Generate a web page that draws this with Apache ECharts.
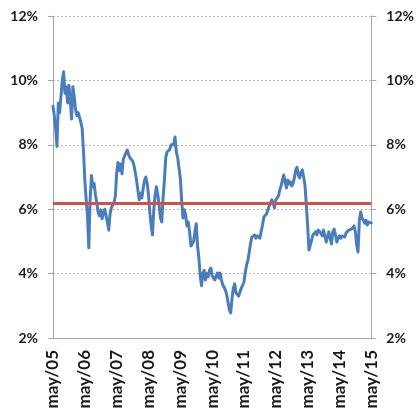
<!DOCTYPE html>
<html>
<head>
<meta charset="utf-8">
<script src="https://cdn.jsdelivr.net/npm/echarts@6/dist/echarts.min.js"></script>
<style>
html,body{margin:0;padding:0;background:#fff;}
#chart{width:417px;height:413px;}
</style>
</head>
<body>
<div id="chart"></div>
<script>
const tickLabels = ['may/05','may/06','may/07','may/08','may/09','may/10','may/11','may/12','may/13','may/14','may/15'];
const yTicks = [2, 4, 6, 8, 10, 12];
const stepMonths = 0.5;
const average = 6.18;
const rate = [
 9.2, 8.9, 8.5, 7.95, 9.3, 9.0, 9.5, 10.0, 10.27, 9.6,
 9.8, 9.3, 9.85, 9.4, 8.8, 9.8, 9.5, 9.1, 8.9, 9.0,
 8.85, 8.7, 8.5, 7.8, 6.9, 6.3, 5.8, 4.8, 6.3, 7.05,
 6.7, 6.8, 6.45, 6.2, 5.9, 5.8, 5.98, 5.7, 5.9, 6.0,
 5.8, 5.6, 5.35, 5.85, 6.05, 6.1, 6.2, 6.4, 7.1, 7.45,
 7.2, 7.4, 7.1, 7.55, 7.6, 7.75, 7.84, 7.7, 7.6, 7.65,
 7.5, 7.37, 7.15, 6.9, 6.6, 6.29, 6.5, 6.35, 6.65, 6.9,
 7.0, 6.8, 6.45, 5.9, 5.5, 5.2, 5.98, 6.45, 6.7, 6.45,
 6.13, 5.73, 5.6, 6.35, 6.9, 7.6, 7.78, 7.75, 7.85, 8.0,
 8.05, 8.0, 8.24, 7.78, 7.6, 7.28, 6.97, 6.29, 5.73, 5.98,
 5.82, 5.48, 5.6, 5.3, 4.86, 4.92, 5.0, 5.3, 5.55, 4.86,
 4.48, 3.93, 3.62, 4.0, 4.1, 3.8, 4.0, 3.9, 4.1, 4.17,
 3.93, 3.96, 3.8, 3.93, 4.02, 3.86, 4.02, 3.8, 3.65, 3.58,
 3.49, 3.34, 3.1, 2.87, 2.78, 3.24, 3.55, 3.68, 3.4, 3.34,
 3.3, 3.43, 3.55, 3.52, 3.74, 4.05, 4.27, 4.42, 4.67, 4.95,
 5.14, 5.1, 5.2, 5.1, 5.17, 5.2, 5.1, 5.32, 5.51, 5.76,
 5.73, 5.85, 5.98, 6.1, 6.2, 6.29, 6.2, 6.04, 6.29, 6.29,
 6.41, 6.6, 6.72, 6.91, 7.06, 6.85, 6.66, 6.91, 6.78, 6.85,
 6.72, 6.8, 6.97, 7.22, 7.3, 7.06, 6.97, 7.15, 7.22, 7.0,
 6.75, 6.13, 5.5, 4.73, 4.67, 5.04, 5.2, 5.26, 5.3, 5.2,
 5.35, 5.38, 5.26, 5.17, 5.35, 5.3, 4.98, 5.04, 5.3, 5.1,
 4.92, 5.3, 5.38, 5.2, 4.98, 5.1, 5.17, 5.1, 5.17, 5.2,
 5.14, 5.26, 5.23, 5.35, 5.3, 5.38, 5.42, 5.48, 5.3, 4.89,
 4.67, 5.66, 5.91, 5.73, 5.66, 5.57, 5.66, 5.51, 5.6, 5.54, 5.57
];

const chart = echarts.init(document.getElementById('chart'), null, {renderer: 'canvas'});
const yMin = yTicks[0], yMax = yTicks[yTicks.length - 1], yStep = yTicks[1] - yTicks[0];
const xMax = (tickLabels.length - 1) * 12;

function yAxisDef(pos) {
  return {
    type: 'value', position: pos, min: yMin, max: yMax, interval: yStep,
    axisLine: {show: true, lineStyle: {color: '#a6a6a6', width: 1}},
    axisTick: {show: true, length: 5, lineStyle: {color: '#a6a6a6'}},
    axisLabel: {formatter: '{value}%', margin: 15, fontFamily: 'Lato', fontWeight: 'bold', fontSize: 14, color: '#1a1a1a'},
    splitLine: {show: pos === 'left', lineStyle: {color: '#b8b8b8', type: [2, 2], width: 1}}
  };
}

chart.setOption({
  animation: false,
  backgroundColor: '#ffffff',
  grid: {left: 53, right: 42, top: 16, bottom: 75, containLabel: false},
  xAxis: {
    type: 'value', min: 0, max: xMax, interval: 12,
    axisLine: {show: true, onZero: false, lineStyle: {color: '#a6a6a6', width: 1}},
    axisTick: {show: false},
    splitLine: {show: false},
    axisLabel: {
      rotate: 90, margin: 12,
      fontFamily: 'Lato', fontWeight: 'bold', fontSize: 17, color: '#1a1a1a',
      padding: [7, 0, 0, 0],
      formatter: function (v) { return tickLabels[Math.round(v / 12)] || ''; }
    }
  },
  yAxis: [yAxisDef('left'), yAxisDef('right')],
  series: [{
    type: 'line',
    data: rate.map((v, i) => [i * stepMonths, v]),
    showSymbol: false,
    symbol: 'none',
    lineStyle: {color: '#4a7ebb', width: 3, join: 'round', cap: 'round'},
    markLine: {
      silent: true,
      symbol: ['none', 'none'],
      label: {show: false},
      lineStyle: {color: '#d0504a', width: 3, type: 'solid'},
      data: [{yAxis: average}]
    },
    z: 3
  }]
});
</script>
</body>
</html>
